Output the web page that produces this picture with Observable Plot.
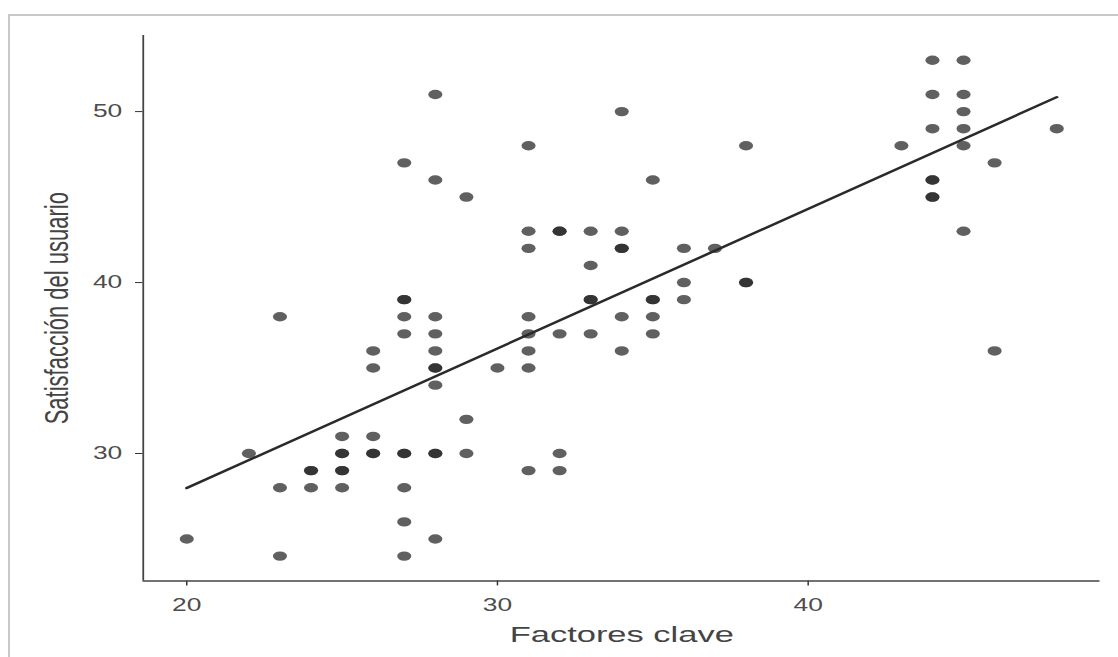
<!DOCTYPE html>
<html><head><meta charset="utf-8">
<script src="https://cdn.jsdelivr.net/npm/d3@7"></script>
<script src="https://cdn.jsdelivr.net/npm/@observablehq/plot@0.6"></script>
<style>
html,body{margin:0;padding:0;background:#fff;width:1118px;height:657px;overflow:hidden;}
#chart{position:absolute;left:0;top:0;transform:scaleX(1.5);transform-origin:0 0;}
#frame{position:absolute;left:8px;top:14px;width:1200px;height:700px;border-top:2px solid #c8c8c8;border-left:2px solid #c8c8c8;pointer-events:none;}
</style></head><body>
<div id="chart"></div><div id="frame"></div>
<script>
// Factores clave (x) and Satisfacción del usuario (y), one entry per respondent
const factores = [
  20,
  22,
  23,23,23,
  24,24,24,
  25,25,25,25,25,25,
  26,26,26,26,26,
  27,27,27,27,27,27,27,27,27,27,
  28,28,28,28,28,28,28,28,28,28,28,
  29,29,29,
  30,
  31,31,31,31,31,31,31,31,
  32,32,32,32,32,
  33,33,33,33,33,
  34,34,34,34,34,34,
  35,35,35,35,35,
  36,36,36,
  37,
  38,38,38,
  43,
  44,44,44,44,44,44,44,
  45,45,45,45,45,45,
  46,46,
  48
];
const satisfaccion = [
  25,
  30,
  38,28,24,
  29,29,28,
  31,30,30,29,29,28,
  36,35,31,30,30,
  47,39,39,38,37,30,30,28,26,24,
  51,46,38,37,36,35,35,34,30,30,25,
  45,32,30,
  35,
  48,43,42,38,37,36,35,29,
  43,43,37,30,29,
  43,41,39,39,37,
  50,43,42,42,38,36,
  46,39,39,38,37,
  42,40,39,
  42,
  48,40,40,
  48,
  53,51,49,46,46,45,45,
  53,51,50,49,48,43,
  47,36,
  49
];
const xTicks = [20, 30, 40];
const yTicks = [30, 40, 50];
const xDomain = [18.6, 49.4];
const yDomain = [22.55, 54.45];
const xTitle = "Factores clave";
const yTitle = "Satisfacción del usuario";

const data = factores.map((x, i) => ({x, y: satisfaccion[i]}));

const chart = Plot.plot({
  width: 745,
  height: 657,
  marginLeft: 95,
  marginRight: 12,
  marginTop: 35,
  marginBottom: 76.6,
  style: {fontFamily: "'Liberation Sans', Arial, sans-serif", fontSize: "17.6px", color: "#4d4d4d", background: "white", maxWidth: "none"},
  x: {domain: xDomain},
  y: {domain: yDomain},
  marks: [
    Plot.axisX({ticks: xTicks, tickSize: 5, tickPadding: 13, label: null, stroke: "#333"}),
    Plot.axisY({ticks: yTicks, tickSize: 5, tickPadding: 9, label: null, stroke: "#333"}),
    Plot.ruleX([xDomain[0]], {y1: yDomain[0], y2: yDomain[1], stroke: "#444", strokeWidth: 1.2}),
    Plot.ruleY([yDomain[0]], {x1: xDomain[0], x2: xDomain[1], stroke: "#444", strokeWidth: 1.5}),
    Plot.dot(data, {x: "x", y: "y", r: 4.7, fill: "#222", fillOpacity: 0.72, stroke: "none"}),
    Plot.linearRegressionY(data, {x: "x", y: "y", stroke: "#2a2a2a", strokeWidth: 2.3, ci: 0}),
    Plot.text([xTitle], {frameAnchor: "bottom", dy: 61, fontSize: 23, fill: "#444", text: d => d}),
    Plot.text([yTitle], {frameAnchor: "left", textAnchor: "middle", dx: -57, rotate: -90, fontSize: 22, fill: "#444", text: d => d})
  ]
});
document.getElementById("chart").appendChild(chart);
</script>
</body></html>
